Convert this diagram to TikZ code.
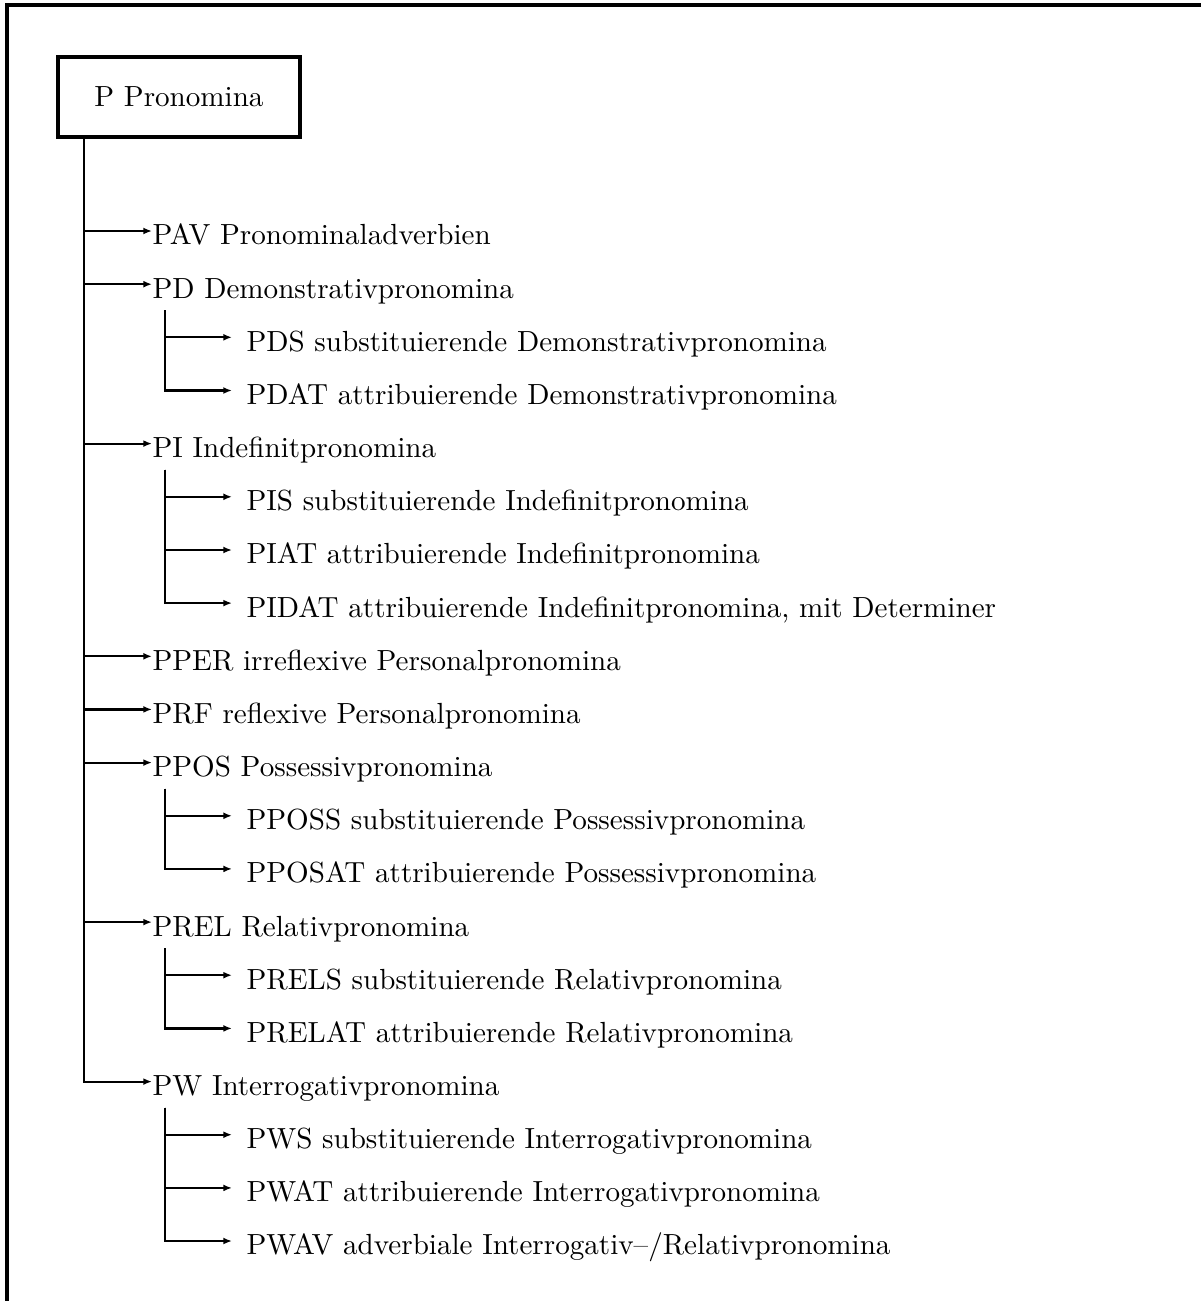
\documentclass[tikz,border=0pt]{standalone}
\usetikzlibrary{arrows.meta}

\tikzset{
  pfeil/.style={-{Latex[length=3pt,width=2.4pt]}, line width=0.75pt},
  klasse/.style={anchor=west, inner sep=0pt, text height=9.6pt, text depth=0pt},
  unterklasse/.style={klasse, inner xsep=4.8pt},
}

\begin{document}
\begin{tikzpicture}[x=0.3436pt, y=-0.3436pt]

\useasboundingbox (0,0) rectangle (1201,1301);

% Rahmen
\draw[line width=1.2pt] (1201,5) -- (7,5) -- (7,1301);

% Wurzel
\node[draw, line width=1.2pt, minimum width=83.15pt, minimum height=27.5pt] (p) at (179,97) {P Pronomina};
\coordinate (stamm) at (84,137);

% erste Ebene
\node[klasse] (pav)  at (152,231)    {PAV Pronominaladverbien};
\node[klasse] (pd)   at (152,284.2)  {PD Demonstrativpronomina};
\node[klasse] (pi)   at (152,443.6)  {PI Indefinitpronomina};
\node[klasse] (pper) at (152,656.3)  {PPER irreflexive Personalpronomina};
\node[klasse] (prf)  at (152,709.4)  {PRF reflexive Personalpronomina};
\node[klasse] (ppos) at (152,762.6)  {PPOS Possessivpronomina};
\node[klasse] (prel) at (152,922.1)  {PREL Relativpronomina};
\node[klasse] (pw)   at (152,1081.6) {PW Interrogativpronomina};

\foreach \n in {pav,pd,pi,pper,prf,ppos,prel,pw}
    \draw[pfeil] (stamm) |- (\n.west);

% zweite Ebene
\node[unterklasse] (pds)    at (232,337.3)  {PDS substituierende Demonstrativpronomina};
\node[unterklasse] (pdat)   at (232,390.5)  {PDAT attribuierende Demonstrativpronomina};

\node[unterklasse] (pis)    at (232,496.8)  {PIS substituierende Indefinitpronomina};
\node[unterklasse] (piat)   at (232,550)    {PIAT attribuierende Indefinitpronomina};
\node[unterklasse] (pidat)  at (232,603.1)  {PIDAT attribuierende Indefinitpronomina, mit Determiner};

\node[unterklasse] (pposs)  at (232,815.8)  {PPOSS substituierende Possessivpronomina};
\node[unterklasse] (pposat) at (232,868.9)  {PPOSAT attribuierende Possessivpronomina};

\node[unterklasse] (prels)  at (232,975.2)  {PRELS substituierende Relativpronomina};
\node[unterklasse] (prelat) at (232,1028.4) {PRELAT attribuierende Relativpronomina};

\node[unterklasse] (pws)    at (232,1134.7) {PWS substituierende Interrogativpronomina};
\node[unterklasse] (pwat)   at (232,1187.9) {PWAT attribuierende Interrogativpronomina};
\node[unterklasse] (pwav)   at (232,1241)   {PWAV adverbiale Interrogativ--/Relativpronomina};

\coordinate (pdast)   at (165,310);
\coordinate (piast)   at (165,469.6);
\coordinate (pposast) at (165,788.6);
\coordinate (prelast) at (165,948.1);
\coordinate (pwast)   at (165,1107.6);

\foreach \n in {pds,pdat}
    \draw[pfeil] (pdast) |- (\n.west);
\foreach \n in {pis,piat,pidat}
    \draw[pfeil] (piast) |- (\n.west);
\foreach \n in {pposs,pposat}
    \draw[pfeil] (pposast) |- (\n.west);
\foreach \n in {prels,prelat}
    \draw[pfeil] (prelast) |- (\n.west);
\foreach \n in {pws,pwat,pwav}
    \draw[pfeil] (pwast) |- (\n.west);

\end{tikzpicture}
\end{document}
